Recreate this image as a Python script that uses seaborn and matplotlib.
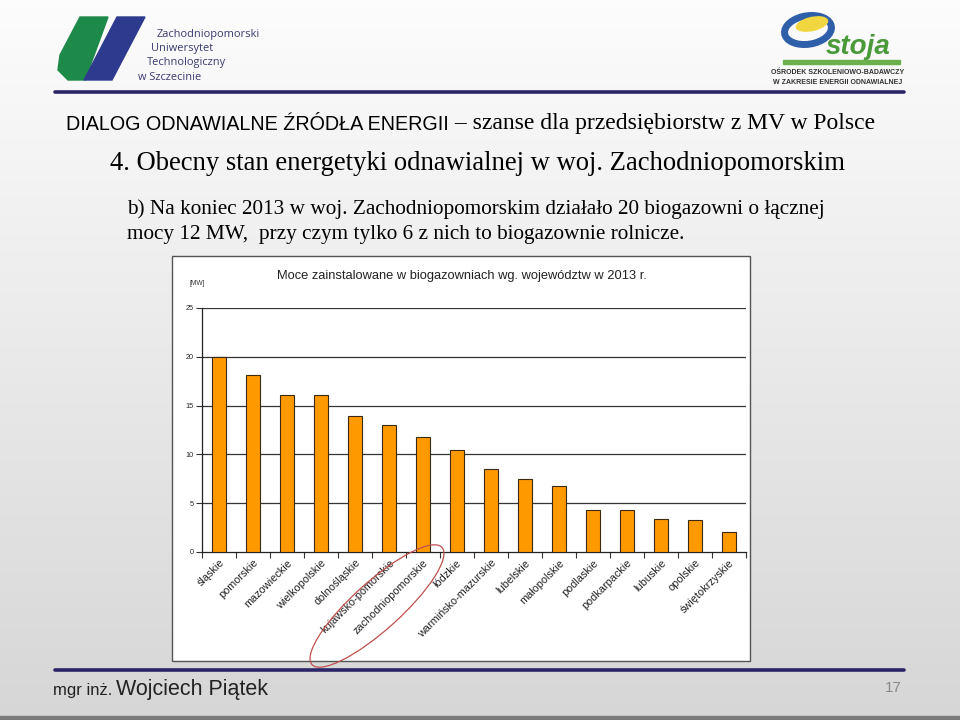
import numpy as np
import pandas as pd
import matplotlib
matplotlib.use("Agg")
import matplotlib.pyplot as plt
import seaborn as sns
from matplotlib.patches import Rectangle, Ellipse, Polygon
from matplotlib.transforms import IdentityTransform

# ---- data ----
regions = ["śląskie", "pomorskie", "mazowieckie", "wielkopolskie", "dolnośląskie",
           "kujawsko-pomorskie", "zachodniopomorskie", "łódzkie", "warmińsko-mazurskie",
           "lubelskie", "małopolskie", "podlaskie", "podkarpackie", "lubuskie",
           "opolskie", "świętokrzyskie"]
power_mw = [20.0, 18.1, 16.1, 16.1, 13.9, 13.0, 11.8, 10.5, 8.5,
            7.45, 6.8, 4.3, 4.3, 3.4, 3.3, 2.1]
y_ticks = [0, 5, 10, 15, 20, 25]

header = "DIALOG ODNAWIALNE ŹRÓDŁA ENERGII"
header_tail = " – szanse dla przedsiębiorstw z MV w Polsce"
section = "4. Obecny stan energetyki odnawialnej w woj. Zachodniopomorskim"
body1 = "b) Na koniec 2013 w woj. Zachodniopomorskim działało 20 biogazowni o łącznej"
body2 = "mocy 12 MW,  przy czym tylko 6 z nich to biogazownie rolnicze."
chart_title = "Moce zainstalowane w biogazowniach wg. województw w 2013 r."
unit_label = "[MW]"
author_small = "mgr inż."
author_big = "Wojciech Piątek"
page_no = "17"

sns.set_theme(style="white")
plt.rcParams["font.family"] = ["Liberation Sans", "DejaVu Sans"]

W, H = 960, 720
fig = plt.figure(figsize=(9.6, 7.2), dpi=100)

def fx(x):
    return x / W

def fy(y):
    return 1 - y / H

# ---- slide background gradient ----
bg = fig.add_axes([0, 0, 1, 1], zorder=-10)
grad = np.linspace(0, 1, 256)[:, None]
top = np.array([0.99, 0.99, 0.99])
bot = np.array([0.84, 0.84, 0.84])
img = top[None, None, :] * (1 - grad[..., None]) + bot[None, None, :] * grad[..., None]
img = np.repeat(img, 2, axis=1)
bg.imshow(img, aspect="auto", extent=[0, 1, 0, 1])
bg.set_xlim(0, 1)
bg.set_ylim(0, 1)
bg.axis("off")
bg.add_patch(Rectangle((0, 0), 1, fy(716), color="#7a7a7a", transform=bg.transAxes))

# ---- logos (simplified) ----
bg.add_patch(Polygon([(fx(80), fy(17)), (fx(108), fy(17)), (fx(85), fy(80)),
                      (fx(68), fy(80)), (fx(58), fy(70)), (fx(60), fy(55))],
                     closed=True, color="#1e8a4a", transform=fig.transFigure))
bg.add_patch(Polygon([(fx(117), fy(17)), (fx(145), fy(17)), (fx(112), fy(80)),
                      (fx(84), fy(80))],
                     closed=True, color="#2e3a8e", transform=fig.transFigure))
for txt, xx, yy in [("Zachodniopomorski", 157, 34), ("Uniwersytet", 151, 49),
                    ("Technologiczny", 147, 63), ("w Szczecinie", 138, 78)]:
    fig.text(fx(xx), fy(yy), txt, fontsize=7.9, color="#3a3a70", va="center", ha="left",
             family=["Open Sans", "DejaVu Sans"])

bg.add_patch(Ellipse((fx(808), fy(30)), fx(48), 28 / H, angle=20, facecolor="none",
                     edgecolor="#2e5fa8", linewidth=5, transform=fig.transFigure))
bg.add_patch(Ellipse((fx(812), fy(24)), fx(34), 14 / H, angle=20, facecolor="#f2d640",
                     edgecolor="none", transform=fig.transFigure))
fig.text(fx(858), fy(47), "stoja", fontsize=20, color="#4a9a3a", fontweight="bold",
         style="italic", ha="center", va="center")
bg.add_patch(Rectangle((fx(783), fy(64)), fx(117), 4 / H, color="#6ab04c",
                       transform=fig.transFigure))
fig.text(fx(838), fy(72), "OŚRODEK SZKOLENIOWO-BADAWCZY", fontsize=5, color="#333333",
         fontweight="bold", ha="center", va="center")
fig.text(fx(838), fy(82), "W ZAKRESIE ENERGII ODNAWIALNEJ", fontsize=5, color="#333333",
         fontweight="bold", ha="center", va="center")

bg.plot([fx(55), fx(904)], [fy(92), fy(92)], color="#2a2566", linewidth=2.6,
        transform=fig.transFigure)
bg.plot([fx(55), fx(904)], [fy(670), fy(670)], color="#2a2566", linewidth=2.6,
        transform=fig.transFigure)

# ---- slide text ----
t1 = fig.text(fx(66), fy(124), header, fontsize=14.2, color="black", va="center",
              ha="left", family=["Liberation Sans Narrow", "Liberation Sans", "DejaVu Sans"])
fig.canvas.draw()
bb = t1.get_window_extent()
fig.text(bb.x1 / W, fy(124), header_tail, fontsize=17, color="black", va="center",
         ha="left", family=["Liberation Serif", "DejaVu Serif"])
fig.text(fx(110), fy(163), section, fontsize=19.2, color="black", va="center", ha="left",
         family=["Liberation Serif", "DejaVu Serif"])
fig.text(fx(127), fy(209), body1, fontsize=15.3, color="black", va="center", ha="left",
         family=["Liberation Serif", "DejaVu Serif"])
fig.text(fx(127), fy(235), body2, fontsize=15.3, color="black", va="center", ha="left",
         family=["Liberation Serif", "DejaVu Serif"])

t2 = fig.text(fx(53), fy(691), author_small, fontsize=12, color="#222222", va="center",
              ha="left", family=["Liberation Sans Narrow", "Liberation Sans", "DejaVu Sans"])
fig.canvas.draw()
bb2 = t2.get_window_extent()
fig.text(bb2.x1 / W + fx(4), fy(690), author_big, fontsize=15.5, color="#222222",
         va="center", ha="left",
         family=["Liberation Sans Narrow", "Liberation Sans", "DejaVu Sans"])
fig.text(fx(893), fy(688), page_no, fontsize=11, color="#8a8a8a", va="center", ha="center")

# ---- chart box ----
bg.add_patch(Rectangle((fx(172), fy(661)), fx(578), (661 - 256) / H, facecolor="white",
                       edgecolor="#555555", linewidth=1.0, transform=fig.transFigure,
                       zorder=1))
fig.text(fx(462), fy(276), chart_title, fontsize=9.3, color="#222222", ha="center",
         va="center")
fig.text(fx(197), fy(284), unit_label, fontsize=4.8, color="#333333", ha="center",
         va="center")

# ---- bar chart ----
ax = fig.add_axes([fx(202), fy(552), fx(746 - 202), (552 - 308) / H], zorder=2)
ax.set_facecolor("none")
df = pd.DataFrame({"region": regions, "power": power_mw})
sns.barplot(data=df, x="region", y="power", color="#ff9900", width=0.42,
            edgecolor="#3a2a10", linewidth=0.8, saturation=1, ax=ax, zorder=3)
ax.set_ylim(0, 25)
ax.set_xlim(-0.5, len(regions) - 0.5)
ax.set_yticks(y_ticks)
ax.set_yticklabels([str(v) for v in y_ticks], fontsize=5.2)
for v in y_ticks[1:]:
    ax.axhline(v, color="#333333", linewidth=0.9, zorder=1)
ax.set_xticks(np.arange(len(regions)))
ax.set_xticklabels(regions, rotation=45, ha="right", rotation_mode="anchor", fontsize=7.8,
                   color="#222222")
ax.tick_params(axis="x", length=0, pad=4)
ax.tick_params(axis="y", length=4, width=0.8, direction="out", color="#333333", pad=2,
               left=True)
ax.set_xticks(np.arange(len(regions) + 1) - 0.5, minor=True)
ax.tick_params(axis="x", which="minor", length=4, width=0.8, direction="out",
               color="#333333", bottom=True)
ax.set_xlabel("")
ax.set_ylabel("")
for side in ["top", "right"]:
    ax.spines[side].set_visible(False)
for side in ["left", "bottom"]:
    ax.spines[side].set_color("#222222")
    ax.spines[side].set_linewidth(0.9)

fig.patches.append(Ellipse((377, H - 606), 175, 48, angle=42, facecolor="none",
                           edgecolor="#c0504d", linewidth=0.9,
                           transform=IdentityTransform(), zorder=5))

fig.savefig("out.png", dpi=100)
